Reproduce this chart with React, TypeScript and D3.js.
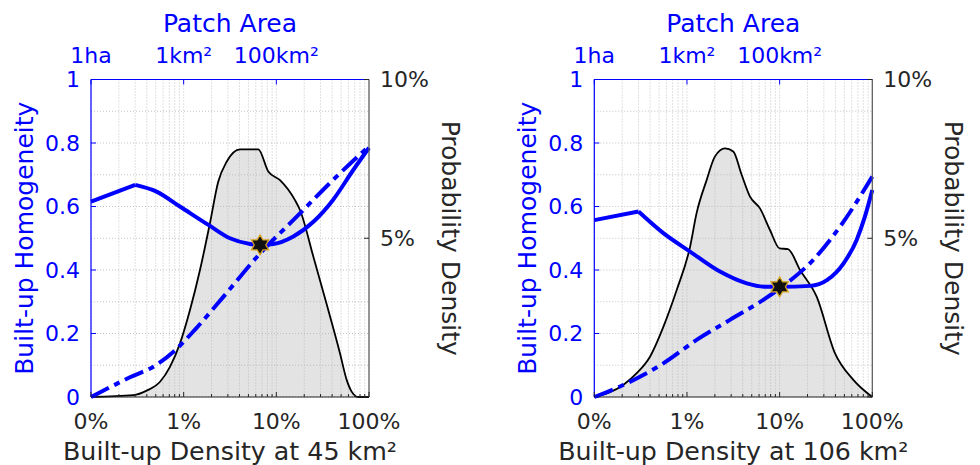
import React from 'react';
import * as d3 from 'd3';

// ---------- axis tick data ----------
const xTickValues = [0.1, 1, 10, 100]; // built-up density, %
const xTickLabels = ['0%', '1%', '10%', '100%'];
const topTickValues = [0.01, 1, 100]; // patch area, km²
const topTickLabels = ['1ha', '1km²', '100km²'];
const yLeftTickValues = [0, 0.2, 0.4, 0.6, 0.8, 1];
const yLeftTickLabels = ['0', '0.2', '0.4', '0.6', '0.8', '1'];
const yRightTickValues = [0, 5, 10];
const yRightTickLabels = ['', '5%', '10%'];

// ---------- panel A : 45 km² ----------
const homogXA = [0.1, 0.3, 0.51, 0.91, 1.85, 3.16, 5.2, 6.67, 9.27, 15.1, 25.1, 40.7, 67.6, 100];
const homogYA = [0.615, 0.668, 0.647, 0.6, 0.542, 0.5, 0.482, 0.479, 0.482, 0.505, 0.552, 0.62, 0.715, 0.785];
const trendXA = [0.1, 0.263, 0.5, 0.794, 1.38, 2.69, 6.67, 16.6, 40.7, 100];
const trendYA = [0, 0.062, 0.1, 0.145, 0.218, 0.316, 0.452, 0.568, 0.683, 0.79];
const pdfXA = [0.1, 0.286, 0.399, 0.556, 0.711, 0.913, 1.17, 1.5, 1.92, 2.36, 2.91, 4.06, 6.39, 8.19, 10.96, 15.9, 18, 25.1, 34.7, 48.6, 57.4, 65, 76.7, 100];
const pdfYA = [0, 0.06, 0.2, 0.48, 0.95, 1.69, 2.74, 4.0, 5.47, 6.78, 7.41, 7.8, 7.8, 7.1, 6.83, 6.2, 5.89, 4.42, 2.95, 1.38, 0.54, 0.17, 0, 0];
const starA = [6.67, 0.479];

// ---------- panel B : 106 km² ----------
const homogXB = [0.1, 0.3, 0.556, 1.08, 2.27, 4.42, 7.24, 10, 21.4, 32.4, 49, 67.6, 83.2, 100];
const homogYB = [0.557, 0.584, 0.516, 0.458, 0.395, 0.358, 0.347, 0.347, 0.35, 0.368, 0.421, 0.494, 0.568, 0.652];
const trendXB = [0.1, 0.224, 0.556, 1.27, 2.91, 6.67, 11.9, 22.9, 44.7, 100];
const trendYB = [0, 0.043, 0.106, 0.18, 0.243, 0.306, 0.358, 0.431, 0.536, 0.694];
const pdfXB = [0.1, 0.205, 0.287, 0.399, 0.556, 0.775, 1.08, 1.27, 1.63, 2.0, 2.57, 3.16, 3.89, 4.79, 6.14, 7.87, 10, 12.3, 16.6, 25.1, 39.5, 62.4, 100];
const pdfYB = [0, 0.38, 0.75, 1.27, 2.21, 3.37, 4.73, 5.79, 6.83, 7.57, 7.83, 7.73, 7.0, 6.31, 5.94, 5.26, 4.68, 4.66, 4.0, 3.16, 1.38, 0.54, 0];
const starB = [10, 0.347];

const BLUE = '#0000ff';
const DARK = '#262626';
const FONT = 'DejaVu Sans, sans-serif';

type Pt = [number, number];
const zip = (a: number[], b: number[]): Pt[] => a.map((v, i) => [v, b[i]]);

function hexagram(cx: number, cy: number, R: number) {
  const r = R / Math.sqrt(3);
  const pts: string[] = [];
  for (let i = 0; i < 12; i++) {
    const ang = -Math.PI / 2 + (i * Math.PI) / 6;
    const rad = i % 2 === 0 ? R : r;
    pts.push(`${cx + rad * Math.cos(ang)},${cy + rad * Math.sin(ang)}`);
  }
  return 'M' + pts.join('L') + 'Z';
}

interface PanelProps {
  x0: number;
  x1: number;
  xLabel: string;
  homX: number[];
  homY: number[];
  trX: number[];
  trY: number[];
  pdfX: number[];
  pdfY: number[];
  star: number[];
}

function Panel({ x0, x1, xLabel, homX, homY, trX, trY, pdfX, pdfY, star }: PanelProps) {
  const top = 79.5;
  const bottom = 397;
  const x = d3.scaleLog().domain([0.1, 100]).range([x0, x1]);
  const xTop = d3.scaleLog().domain([0.01, 1e4]).range([x0, x1]);
  const yL = d3.scaleLinear().domain([0, 1]).range([bottom, top]);
  const yR = d3.scaleLinear().domain([0, 10]).range([bottom, top]);

  const pdf = zip(pdfX, pdfY);
  const area = d3
    .area<Pt>()
    .x((d) => x(d[0]))
    .y0(bottom)
    .y1((d) => yR(d[1]))
    .curve(d3.curveMonotoneX);
  const pdfLine = d3
    .line<Pt>()
    .x((d) => x(d[0]))
    .y((d) => yR(d[1]))
    .curve(d3.curveMonotoneX);
  const blueLine = d3
    .line<Pt>()
    .x((d) => x(d[0]))
    .y((d) => yL(d[1]))
    .curve(d3.curveMonotoneX);
  const hom = zip(homX, homY);
  const homLin = d3.line<Pt>().x((d) => x(d[0])).y((d) => yL(d[1]));
  const tr = zip(trX, trY);

  const minorX = x.ticks().filter((v) => !xTickValues.some((t) => Math.abs(t - v) < 1e-9));
  const gridX = x.ticks();
  const gridY = yL.ticks(10);
  const cx = (x0 + x1) / 2;
  const cy = (top + bottom) / 2;

  return (
    <g>
      <path d={area(pdf) || ''} fill="#e3e3e3" stroke="none" />
      {/* grid */}
      {gridX.map((v, i) => (
        <line key={'gx' + i} x1={x(v)} x2={x(v)} y1={top} y2={bottom} stroke="#b4b4b4" strokeWidth={0.8} strokeDasharray="1 2" />
      ))}
      {gridY.map((v, i) => (
        <line key={'gy' + i} x1={x0} x2={x1} y1={yL(v)} y2={yL(v)} stroke="#b4b4b4" strokeWidth={0.8} strokeDasharray="1 2" />
      ))}
      <path d={pdfLine(pdf) || ''} fill="none" stroke="#000" strokeWidth={1.8} strokeLinejoin="round" />
      {/* homogeneity: straight first segment, smooth afterwards */}
      <path d={homLin(hom.slice(0, 2)) || ''} fill="none" stroke={BLUE} strokeWidth={4} />
      <path d={blueLine(hom.slice(1)) || ''} fill="none" stroke={BLUE} strokeWidth={4} strokeLinejoin="round" />
      <path d={blueLine(tr) || ''} fill="none" stroke={BLUE} strokeWidth={4} strokeDasharray="20 6 6 6" />
      <path d={hexagram(x(star[0]), yL(star[1]), 10)} fill="#111" stroke="#d9a520" strokeWidth={1.2} />

      {/* spines */}
      <line x1={x1} x2={x1} y1={top} y2={bottom} stroke="#555" strokeWidth={1.2} />
      <line x1={x0} x2={x1} y1={bottom} y2={bottom} stroke={DARK} strokeWidth={1.2} />
      <line x1={x0} x2={x1} y1={top} y2={top} stroke={BLUE} strokeWidth={1.2} />
      <line x1={x0} x2={x0} y1={top} y2={bottom} stroke={BLUE} strokeWidth={1.2} />

      {/* left axis */}
      {yLeftTickValues.map((v, i) => (
        <g key={'yl' + i}>
          <line x1={x0} x2={x0 + 5} y1={yL(v)} y2={yL(v)} stroke={BLUE} strokeWidth={1} />
          <text x={x0 - 11} y={yL(v)} dy="0.36em" textAnchor="end" fill={BLUE} fontSize={22} fontFamily={FONT}>
            {yLeftTickLabels[i]}
          </text>
        </g>
      ))}
      {/* right axis */}
      {yRightTickValues.map((v, i) => (
        <g key={'yr' + i}>
          <line x1={x1 - 5} x2={x1} y1={yR(v)} y2={yR(v)} stroke={DARK} strokeWidth={1} />
          <text x={x1 + 11} y={yR(v)} dy="0.36em" textAnchor="start" fill={DARK} fontSize={22} fontFamily={FONT}>
            {yRightTickLabels[i]}
          </text>
        </g>
      ))}
      {/* bottom axis */}
      {minorX.map((v, i) => (
        <line key={'mx' + i} x1={x(v)} x2={x(v)} y1={bottom} y2={bottom - 3} stroke={DARK} strokeWidth={1} />
      ))}
      {xTickValues.map((v, i) => (
        <g key={'xb' + i}>
          <line x1={x(v)} x2={x(v)} y1={bottom} y2={bottom - 5} stroke={DARK} strokeWidth={1} />
          <text x={x(v)} y={429} textAnchor="middle" fill={DARK} fontSize={22} fontFamily={FONT}>
            {xTickLabels[i]}
          </text>
        </g>
      ))}
      {/* top axis */}
      {topTickValues.map((v, i) => (
        <g key={'xt' + i}>
          <line x1={xTop(v)} x2={xTop(v)} y1={top} y2={top + 5} stroke={BLUE} strokeWidth={1} />
          <text x={xTop(v)} y={63} textAnchor="middle" fill={BLUE} fontSize={22} fontFamily={FONT}>
            {topTickLabels[i]}
          </text>
        </g>
      ))}
      <text x={cx} y={32} textAnchor="middle" fill={BLUE} fontSize={25} fontFamily={FONT}>
        Patch Area
      </text>
      <text x={cx} y={460} textAnchor="middle" fill={DARK} fontSize={25.3} fontFamily={FONT}>
        {xLabel}
      </text>
      <text
        transform={`translate(${x0 - 58},${cy}) rotate(-90)`}
        textAnchor="middle"
        fill={BLUE}
        fontSize={25}
        fontFamily={FONT}
      >
        Built-up Homogeneity
      </text>
      <text
        transform={`translate(${x1 + 73},${cy}) rotate(90)`}
        textAnchor="middle"
        fill={DARK}
        fontSize={25}
        fontFamily={FONT}
      >
        Probability Density
      </text>
    </g>
  );
}

export default function App() {
  return (
    <svg
      width={980}
      height={465}
      viewBox="0 0 980 465"
      style={{ position: 'absolute', left: 0, top: 0, background: '#fff' }}
    >
      <rect width={980} height={465} fill="#fff" />
      <Panel
        x0={91}
        x1={369}
        xLabel="Built-up Density at 45 km²"
        homX={homogXA}
        homY={homogYA}
        trX={trendXA}
        trY={trendYA}
        pdfX={pdfXA}
        pdfY={pdfYA}
        star={starA}
      />
      <Panel
        x0={594.3}
        x1={872.3}
        xLabel="Built-up Density at 106 km²"
        homX={homogXB}
        homY={homogYB}
        trX={trendXB}
        trY={trendYB}
        pdfX={pdfXB}
        pdfY={pdfYB}
        star={starB}
      />
    </svg>
  );
}
